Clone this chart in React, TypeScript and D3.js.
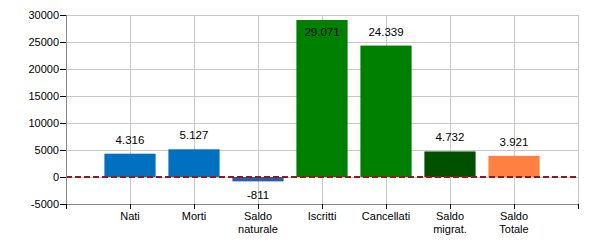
import React from "react";
import * as d3 from "d3";

const categories: string[][] = [
  ["Nati"],
  ["Morti"],
  ["Saldo", "naturale"],
  ["Iscritti"],
  ["Cancellati"],
  ["Saldo", "migrat."],
  ["Saldo", "Totale"],
];
const values: number[] = [4316, 5127, -811, 29071, 24339, 4732, 3921];
const valueLabels: string[] = ["4.316", "5.127", "-811", "29.071", "24.339", "4.732", "3.921"];
const colors: string[] = ["#0070c0", "#0070c0", "#2d5ca8", "#008000", "#008000", "#005000", "#ff8040"];
const yTicks: number[] = [-5000, 0, 5000, 10000, 15000, 20000, 25000, 30000];

export default function App() {
  const W = 600, H = 250;
  const left = 66, right = 578, top = 15, bottom = 204;
  const y = d3.scaleLinear().domain([-5000, 30000]).range([bottom, top]);
  const x = d3.scaleLinear().domain([0, categories.length + 1]).range([left, right]);
  const step = x(1) - x(0);
  const bw = step * 0.8;
  const font = "'Liberation Sans', Arial, sans-serif";
  const xTicks = d3.range(0, categories.length + 2);

  return (
    <svg width={W} height={H} style={{ position: "absolute", left: 0, top: 0, background: "#fff" }} fontFamily={font}>
      {yTicks.map((t) => (
        <line key={"gy" + t} x1={left} x2={right} y1={y(t) + 0.5} y2={y(t) + 0.5} stroke="#c8c8c8" strokeWidth={1} />
      ))}
      {xTicks.slice(1).map((i) => (
        <line key={"gx" + i} x1={Math.round(x(i)) + 0.5} x2={Math.round(x(i)) + 0.5} y1={top} y2={bottom} stroke="#c8c8c8" strokeWidth={1} />
      ))}
      {values.map((v, i) => {
        const cx = x(i + 1);
        const y0 = y(0), y1 = y(v);
        return (
          <rect key={"b" + i} x={cx - bw / 2} width={bw} y={Math.min(y0, y1)} height={Math.abs(y1 - y0)} fill={colors[i]} />
        );
      })}
      <line x1={left} x2={right} y1={y(0)} y2={y(0)} stroke="#8b1c1c" strokeWidth={2} strokeDasharray="6,3" />
      <line x1={left + 0.5} x2={left + 0.5} y1={top} y2={bottom} stroke="#888" />
      <line x1={left} x2={right} y1={bottom + 0.5} y2={bottom + 0.5} stroke="#888" />
      {yTicks.map((t) => (
        <g key={"yt" + t}>
          <line x1={left - 6} x2={left} y1={y(t) + 0.5} y2={y(t) + 0.5} stroke="#000" />
          <text x={left - 7} y={y(t) + 4} textAnchor="end" fontSize={11} fill="#000">{t}</text>
        </g>
      ))}
      {xTicks.map((i) => (
        <line key={"xt" + i} x1={Math.round(x(i)) + 0.5} x2={Math.round(x(i)) + 0.5} y1={bottom} y2={bottom + 5} stroke="#000" />
      ))}
      {categories.map((lines, i) => (
        <text key={"c" + i} x={x(i + 1)} y={220} textAnchor="middle" fontSize={11} fill="#000">
          {lines.map((l, j) => (
            <tspan key={j} x={x(i + 1)} dy={j === 0 ? 0 : 13}>{l}</tspan>
          ))}
        </text>
      ))}
      {values.map((v, i) => {
        let ly: number;
        if (v >= 0) ly = Math.max(y(v) - 10, top + 21);
        else ly = y(v) + 18;
        return (
          <text key={"v" + i} x={x(i + 1)} y={ly} textAnchor="middle" fontSize={11.5} fill="#000">{valueLabels[i]}</text>
        );
      })}
    </svg>
  );
}
